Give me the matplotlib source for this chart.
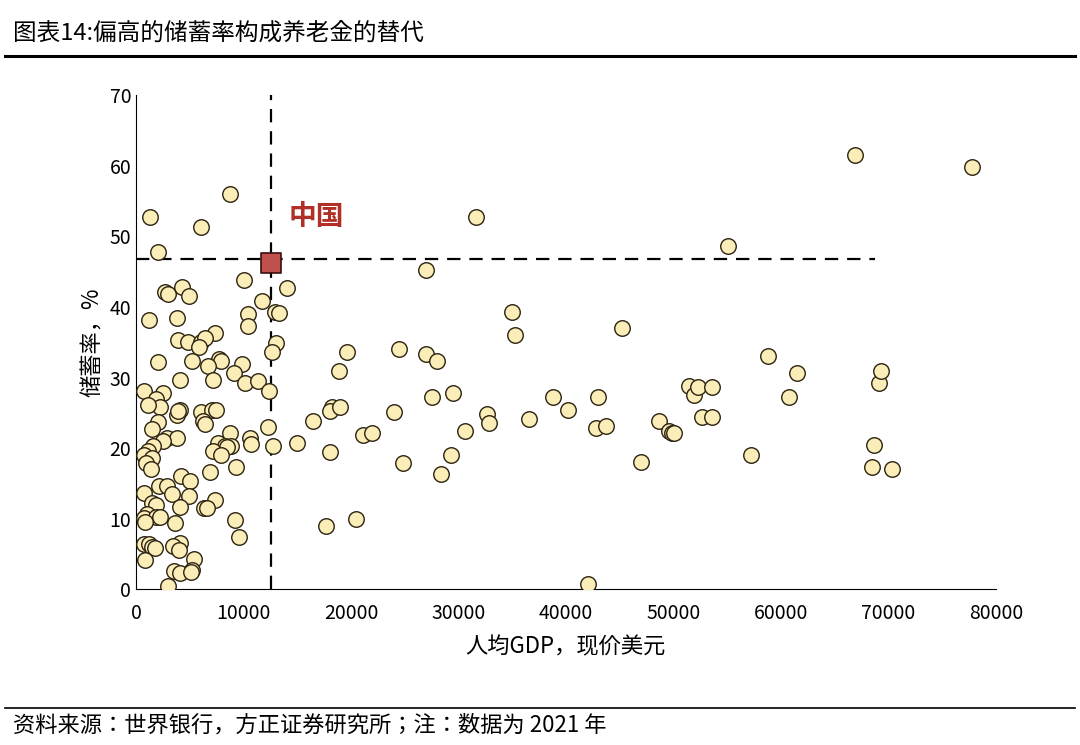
import matplotlib
matplotlib.use("Agg")
import matplotlib.pyplot as plt
from matplotlib import font_manager as fm

cands = ["Noto Sans CJK SC", "Noto Sans CJK JP", "Noto Sans CJK TC", "Noto Sans CJK KR"]
avail = {f.name for f in fm.fontManager.ttflist}
fams = [c for c in cands if c in avail] + ["DejaVu Sans"]
plt.rcParams["font.family"] = "sans-serif"
plt.rcParams["font.sans-serif"] = fams

gdp = [77770, 66900, 55070, 31600, 27000, 35000, 35300, 45200, 24460, 27000, 28000, 19600, 18900,
       18200, 18000, 19000, 16500, 15000, 18000, 17700, 20500, 21100, 22000, 24000, 24800, 27500,
       29500, 28400, 29300, 30600, 32700, 32800, 36600, 38800, 40200, 43000, 42800, 43700, 42100,
       47000, 48700, 49600, 49900, 50100, 51500, 51900, 52300, 52700, 53600, 53600, 57200, 58800,
       60800, 61500, 68700, 68500, 69100, 69300, 70300,
       1300, 2050, 8700, 6000, 10000, 2700, 3000, 4300, 4900, 14000, 11700, 10400, 12900, 13300,
       1200, 3800, 10400, 7300, 3900, 4800, 6000, 6400, 5900, 13000, 12650, 5200, 2000, 7700, 7900,
       9900, 6700, 9100, 7200, 4100, 10100, 11300, 12400, 700, 2500, 1900, 2200, 4100, 3800, 3900,
       6000, 7100, 7400, 6200, 6400, 2000, 1500, 8700, 12300, 2900, 3800, 2500, 10600, 10700, 12700,
       7600, 8300, 8800, 8500, 1600, 1100, 700, 7200, 7900, 1500, 900, 1400, 9300, 4200, 6900, 5000,
       2100, 2900, 700, 3300, 4900, 7300, 1500, 1900, 4100, 6300, 6600, 1000, 700, 1900, 2200, 800,
       3600, 9200, 9600, 700, 1200, 1500, 1800, 4100, 3400, 4000, 5400, 800, 3500, 4100, 5200, 5100,
       3000, 1100]
saving = [59.9, 61.6, 48.6, 52.8, 45.2, 39.3, 36.0, 37.1, 34.0, 33.3, 32.3, 33.7, 31.0,
          25.9, 25.2, 25.9, 23.8, 20.8, 19.4, 8.9, 10.0, 21.9, 22.2, 25.1, 17.9, 27.3,
          27.8, 16.3, 19.1, 22.5, 24.9, 23.5, 24.2, 27.3, 25.4, 27.3, 22.8, 23.1, 0.7,
          18.0, 23.8, 22.4, 22.2, 22.2, 28.8, 27.6, 28.6, 24.4, 28.6, 24.4, 19.1, 33.0,
          27.2, 30.7, 20.5, 17.4, 29.2, 30.9, 17.0,
          52.7, 47.8, 56.0, 51.3, 43.9, 42.2, 41.8, 42.8, 41.5, 42.7, 40.8, 39.0, 39.3, 39.1,
          38.1, 38.4, 37.3, 36.3, 35.3, 35.1, 35.1, 35.6, 34.3, 34.9, 33.7, 32.4, 32.2, 32.6, 32.4,
          31.9, 31.6, 30.7, 29.6, 29.6, 29.2, 29.5, 28.1, 28.1, 27.8, 26.9, 25.9, 25.4, 24.7, 25.2,
          25.1, 25.4, 25.4, 23.9, 23.4, 23.7, 22.7, 22.1, 23.0, 21.5, 21.4, 21.0, 21.4, 20.6, 20.3,
          20.7, 20.3, 20.3, 20.1, 20.3, 19.6, 19.0, 19.6, 19.0, 18.6, 17.9, 17.1, 17.3, 16.0, 16.6, 15.3,
          14.6, 14.6, 13.6, 13.5, 13.2, 12.6, 12.3, 11.9, 11.6, 11.5, 11.5, 10.6, 10.1, 10.2, 10.2, 9.5,
          9.4, 9.8, 7.4, 6.4, 6.4, 6.0, 5.8, 6.5, 6.2, 5.5, 4.3, 4.1, 2.6, 2.3, 2.8, 2.4,
          0.4, 26.1]
china_gdp = 12560
china_saving = 46.3
xticks = [0, 10000, 20000, 30000, 40000, 50000, 60000, 70000, 80000]
yticks = [0, 10, 20, 30, 40, 50, 60, 70]

fig = plt.figure(figsize=(10.8, 7.45), dpi=100)
ax = fig.add_axes([0.126, 0.209, 0.796, 0.663])
ax.scatter(gdp, saving, s=125, facecolor="#FBEDB8", edgecolor="#2b2210", linewidth=1.0, zorder=3)
ax.axvline(china_gdp, color="black", lw=1.6, ls=(0, (6, 4)), zorder=2)
ax.axhline(46.8, xmax=0.86, color="black", lw=1.6, ls=(0, (6, 4)), zorder=2)
ax.scatter([china_gdp], [china_saving], s=200, marker="s", facecolor="#C0504D",
           edgecolor="#3a1010", linewidth=1.2, zorder=4)
ax.text(14200, 52.8, "中国", color="#B03028", fontsize=20, fontweight="bold", va="center")
ax.set_xlim(0, 80000)
ax.set_ylim(0, 70)
ax.set_xticks(xticks)
ax.set_yticks(yticks)
ax.tick_params(labelsize=14, length=0)
ax.tick_params(axis="x", pad=10)
for s in ["top", "right"]:
    ax.spines[s].set_visible(False)
ax.set_xlabel("人均GDP，现价美元", fontsize=16, labelpad=8)
ax.set_ylabel("储蓄率，%", fontsize=16)

fig.text(0.012, 0.955, "图表14:偏高的储蓄率构成养老金的替代", fontsize=17, va="center")
fig.add_artist(plt.Line2D([0.005, 0.995], [0.925, 0.925], color="black", lw=2.2))
fig.add_artist(plt.Line2D([0.005, 0.995], [0.05, 0.05], color="black", lw=1.2))
fig.text(0.012, 0.027, "资料来源：世界银行，方正证券研究所；注：数据为 2021 年", fontsize=16,
         style="italic", va="center")
fig.savefig("out.png", dpi=100)
